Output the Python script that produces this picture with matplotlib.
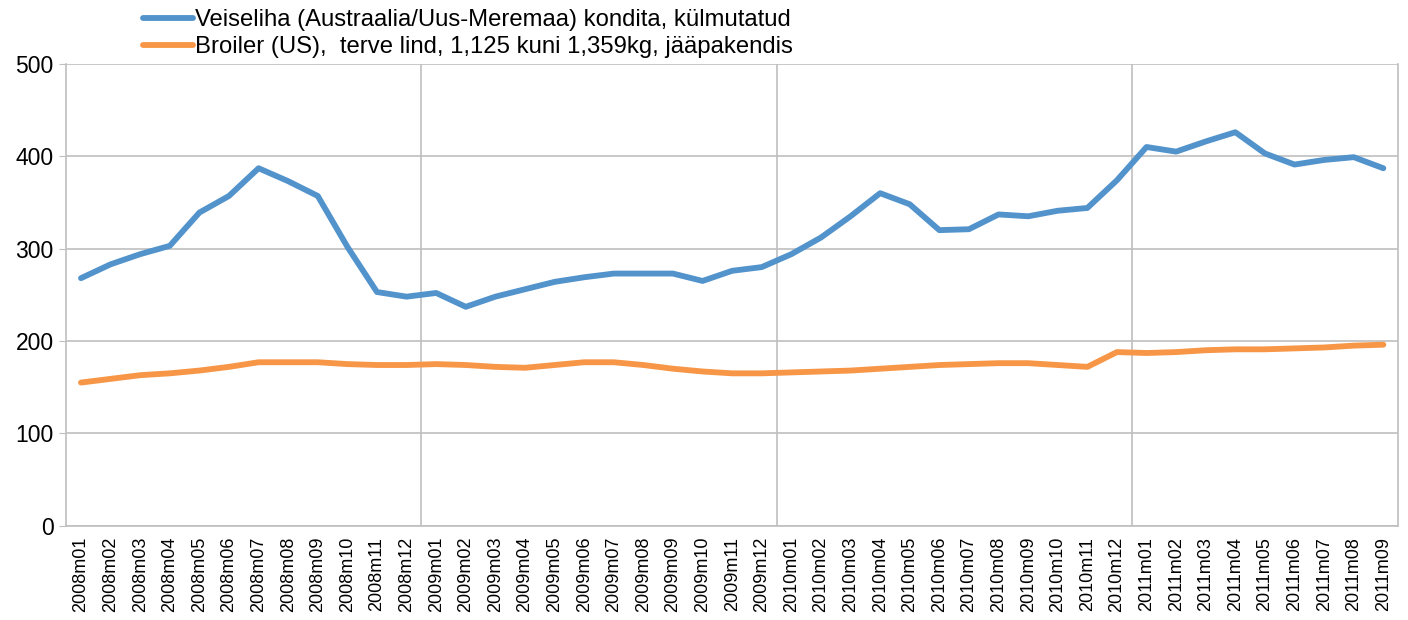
import matplotlib
matplotlib.use('Agg')
import matplotlib.pyplot as plt
import numpy as np

plt.rcParams['font.family'] = ['Liberation Sans', 'DejaVu Sans']

# Monthly categories 2008m01 .. 2011m09
months = [f'{y}m{m:02d}' for y in range(2008, 2012) for m in range(1, 13)][:45]

beef = [268, 283, 294, 303, 339, 357, 387, 373, 357, 302, 253, 248,
        252, 237, 248, 256, 264, 269, 273, 273, 273, 265, 276, 280,
        294, 312, 335, 360, 348, 320, 321, 337, 335, 341, 344, 374,
        410, 405, 416, 426, 403, 391, 396, 399, 387]

broiler = [155, 159, 163, 165, 168, 172, 177, 177, 177, 175, 174, 174,
           175, 174, 172, 171, 174, 177, 177, 174, 170, 167, 165, 165,
           166, 167, 168, 170, 172, 174, 175, 176, 176, 174, 172, 188,
           187, 188, 190, 191, 191, 192, 193, 195, 196]

labels = ['Veiseliha (Austraalia/Uus-Meremaa) kondita, külmutatud',
          'Broiler (US),  terve lind, 1,125 kuni 1,359kg, jääpakendis']
colors = ['#5293CC', '#F79646']

fig = plt.figure(figsize=(14.08, 6.20), dpi=100)
ax = fig.add_axes([0.047, 0.152, 0.946, 0.745])

x = np.arange(len(months))
ax.plot(x, beef, color=colors[0], lw=4.2, label=labels[0], solid_capstyle='round')
ax.plot(x, broiler, color=colors[1], lw=4.2, label=labels[1], solid_capstyle='round')

ax.set_xlim(-0.5, len(months) - 0.5)
ax.set_ylim(0, 500)
ax.set_yticks(range(0, 501, 100))
ax.set_xticks(x)
ax.set_xticklabels(months, rotation=90, fontsize=13)
ax.set_xticks([11.5, 23.5, 35.5], minor=True)
ax.tick_params(axis='x', which='both', length=0, pad=8)
ax.tick_params(axis='y', labelsize=16.5, length=5, color='#BFBFBF', pad=4)

ax.grid(axis='y', color='#BFBFBF', lw=1.2)
ax.grid(axis='x', which='minor', color='#BFBFBF', lw=1.2)
ax.set_axisbelow(True)
for s in ax.spines.values():
    s.set_color('#BFBFBF')
    s.set_linewidth(1.2)
ax.spines['top'].set_visible(False)

ax.legend(loc='lower left', bbox_to_anchor=(0.0505, 0.992), frameon=False,
          fontsize=17.2, handlelength=2.1, handletextpad=0.08,
          labelspacing=0.2, borderaxespad=0.0)

plt.savefig('out.png', dpi=100)
